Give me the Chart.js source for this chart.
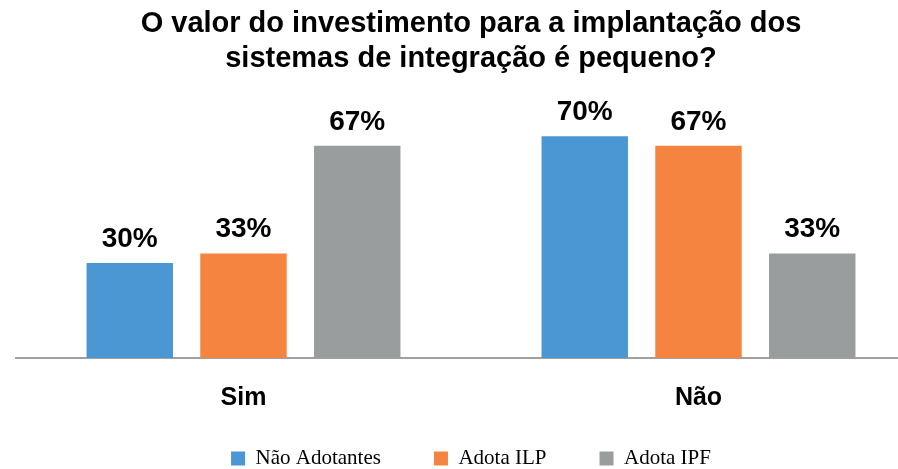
<!DOCTYPE html>
<html>
<head>
<meta charset="utf-8">
<script src="https://cdn.jsdelivr.net/npm/chart.js@4"></script>
<style>
  html, body { margin: 0; padding: 0; background: #fff; overflow: hidden; }
  #wrap { width: 945px; height: 469px; }
</style>
</head>
<body>
<div id="wrap"><canvas id="chart" width="945" height="469"></canvas></div>
<script>
const categories = ['Sim', 'Não']
const seriesNames = ['Não Adotantes', 'Adota ILP', 'Adota IPF']
const naoAdotantes = [30, 70]
const adotaILP = [33, 67]
const adotaIPF = [67, 33]
const colors = ['#4b97d3', '#f4843f', '#9a9d9d']

// draw the percentage above every bar
const valueLabels = {
  id: 'valueLabels',
  afterDatasetsDraw (chart) {
    const ctx = chart.ctx
    ctx.save()
    ctx.font = 'bold 28px "Liberation Sans", Arial, sans-serif'
    ctx.fillStyle = '#000'
    ctx.textAlign = 'center'
    ctx.textBaseline = 'alphabetic'
    chart.data.datasets.forEach((ds, i) => {
      chart.getDatasetMeta(i).data.forEach((bar, j) => {
        ctx.fillText(ds.data[j] + '%', bar.x, bar.y - 16)
      })
    })
    ctx.restore()
  }
}

// the legend's wide item spacing also pads it vertically, so pull it up a bit
const legendLift = {
  id: 'legendLift',
  afterLayout (chart) {
    chart.legend.top -= 18
  }
}

new Chart(document.getElementById('chart'), {
  type: 'bar',
  data: {
    labels: categories,
    datasets: [
      { label: seriesNames[0], data: naoAdotantes, backgroundColor: colors[0] },
      { label: seriesNames[1], data: adotaILP, backgroundColor: colors[1] },
      { label: seriesNames[2], data: adotaIPF, backgroundColor: colors[2] }
    ]
  },
  options: {
    responsive: false,
    animation: false,
    categoryPercentage: 0.75,
    barPercentage: 0.76,
    layout: { padding: { left: 16, right: 19 } },
    plugins: {
      title: {
        display: true,
        text: ['O valor do investimento para a implantação dos', 'sistemas de integração é pequeno?'],
        color: '#000',
        font: { family: '"Liberation Sans", Arial, sans-serif', size: 29, weight: 'bold', lineHeight: 1.2 },
        padding: { top: 7, bottom: 28 }
      },
      legend: {
        position: 'bottom',
        maxHeight: 56,
        labels: {
          color: '#000',
          boxWidth: 14,
          boxHeight: 14,
          padding: 53,
          font: { family: '"Liberation Serif", "Times New Roman", serif', size: 21 }
        }
      },
      tooltip: { enabled: false }
    },
    scales: {
      x: {
        grid: { display: false },
        border: { color: '#a0a0a0', width: 2 },
        afterFit (axis) {
          axis.height = 55
        },
        ticks: {
          color: '#000',
          padding: 17,
          font: { family: '"Liberation Sans", Arial, sans-serif', size: 25, weight: 'bold' }
        }
      },
      y: {
        display: false,
        min: 0,
        max: 80
      }
    }
  },
  plugins: [valueLabels, legendLift]
})
</script>
</body>
</html>
